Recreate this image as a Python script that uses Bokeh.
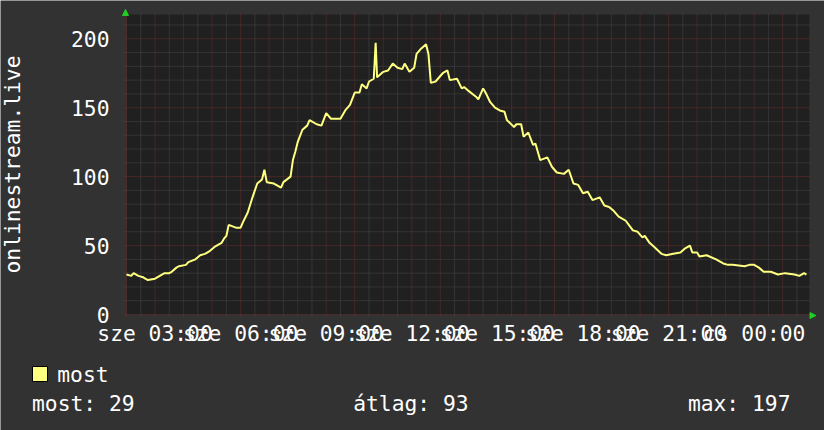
import math
from bokeh.plotting import figure
from bokeh.models import (Range1d, FixedTicker, LinearAxis, Arrow, NormalHead,
                          Label, ColumnDataSource)
from bokeh.embed import file_html
from bokeh.resources import INLINE

# ---------------- data ----------------
# minutes after Wednesday 00:00 (values > 1440 are Thursday)
minutes = [120, 130, 135, 145, 155, 165, 180, 190, 200, 210, 215, 225, 230, 245, 250, 265, 275, 285,
           295, 305, 320, 325, 330, 335, 350, 360, 365, 375, 385, 395, 405, 410, 415, 430, 445, 450,
           465, 470, 475, 480, 490, 500, 505, 520, 530, 540, 550, 570, 580, 590, 600, 610, 615, 625,
           630, 640, 644, 647, 660, 670, 680, 690, 700, 705, 715, 725, 730, 740, 750, 755, 760, 770,
           775, 785, 795, 800, 815, 825, 830, 840, 855, 860, 870, 875, 885, 895, 905, 915, 920, 935,
           940, 950, 955, 965, 975, 980, 990, 1005, 1015, 1025, 1040, 1050, 1060, 1070, 1080, 1090,
           1100, 1115, 1125, 1135, 1145, 1155, 1170, 1185, 1195, 1205, 1210, 1220, 1230, 1245, 1255,
           1270, 1285, 1295, 1305, 1310, 1320, 1325, 1340, 1360, 1375, 1385, 1395, 1420, 1430, 1440,
           1450, 1460, 1475, 1490, 1505, 1525, 1535, 1545, 1550]
values = [29, 28, 30, 28, 27, 25, 26, 28, 30, 30, 31, 34, 35, 36, 38, 40, 43, 44,
          46, 49, 52, 55, 57, 65, 63, 63, 67, 74, 85, 95, 98, 105, 96, 95, 92, 96,
          100, 112, 118, 125, 134, 137, 141, 138, 137, 146, 142, 142, 148, 152, 161, 161, 167, 164,
          169, 171, 197, 172, 176, 177, 182, 179, 178, 182, 176, 179, 189, 193, 196, 189, 168, 169,
          171, 175, 177, 170, 171, 164, 165, 162, 158, 156, 164, 161, 154, 150, 148, 147, 141, 136,
          138, 138, 129, 132, 123, 124, 112, 114, 107, 103, 102, 105, 95, 94, 88, 89,
          83, 85, 79, 78, 75, 71, 68, 61, 60, 56, 57, 52, 49, 44, 43,
          44, 45, 48, 50, 45, 45, 42, 43, 40, 37, 36, 36, 35, 36, 36,
          34, 31, 31, 29, 30, 29, 28, 30, 29]

series_name = "most"
y_title = "onlinestream.live"
x_label_hours = [3, 6, 9, 12, 15, 18, 21, 24]
x_label_texts = ["sze 03:00", "sze 06:00", "sze 09:00", "sze 12:00",
                 "sze 15:00", "sze 18:00", "sze 21:00", "cs 00:00"]
grid_hours = list(range(2, 26))
grid_half_hours = [h + 0.5 for h in range(2, 26)]
y_major = [0, 50, 100, 150, 200]
y_minor = [10, 20, 30, 40, 60, 70, 80, 90, 110, 120, 130, 140, 160, 170, 180, 190, 210]
stat_names = ["most", "átlag", "max"]
stat_values = [29, 93, 197]

# ---------------- style ----------------
BACK = "#323232"
CANVAS = "#202020"
LINE = "#ffff80"
MGRID = "#6a2e2e"
GRID = "#484848"
ARROW = "#22cc22"
TEXT = "#ffffff"
FONT = "DejaVu Sans Mono"
FS = "21.3px"

W, H = 824, 430
X0, X1 = 2.0, 25.94          # visible time span (hours after Wed 00:00)
Y0, Y1 = 0.0, 217.6          # visible value span
FL, FR, FT, FB = 126, 809, 14, 314   # canvas edges in pixels


def px2x(px):
    return X0 + (px - FL) * (X1 - X0) / (FR - FL)


def py2y(py):
    return Y0 + (FB - py) * (Y1 - Y0) / (FB - FT)


hours = [m / 60.0 for m in minutes]
src = ColumnDataSource(dict(x=hours, y=values))

p = figure(width=W, height=H, output_backend="svg", toolbar_location=None,
           x_range=Range1d(px2x(0), px2x(W)), y_range=Range1d(py2y(H), py2y(0)),
           x_axis_type=None, y_axis_type=None,
           min_border_left=0, min_border_right=0, min_border_top=0, min_border_bottom=0,
           background_fill_color=BACK, border_fill_color=BACK, outline_line_color=None)
p.xgrid.visible = False
p.ygrid.visible = False

# plotting canvas
p.quad(left=[X0], right=[X1], bottom=[Y0], top=[Y1], fill_color=CANVAS, line_color=None,
       level="underlay")

# grid lines (with the small overhang beyond the canvas)
vy0, vy1 = py2y(FB + 2), py2y(FT - 2)
hx0, hx1 = px2x(FL - 3), px2x(FR + 2)
p.segment(x0=grid_half_hours, x1=grid_half_hours, y0=[vy0] * len(grid_half_hours),
          y1=[vy1] * len(grid_half_hours), line_color=GRID, line_width=1, line_dash="1 1",
          level="underlay")
p.segment(x0=[hx0] * len(y_minor), x1=[hx1] * len(y_minor), y0=y_minor, y1=y_minor,
          line_color=GRID, line_width=1, line_dash="1 1", level="underlay")
p.segment(x0=grid_hours, x1=grid_hours, y0=[vy0] * len(grid_hours),
          y1=[vy1] * len(grid_hours), line_color=MGRID, line_width=1, line_dash="1 1",
          level="underlay")
p.segment(x0=[hx0] * len(y_major), x1=[hx1] * len(y_major), y0=y_major, y1=y_major,
          line_color=MGRID, line_width=1, line_dash="1 1", level="underlay")

# axes (labels only), drawn at the canvas edges
overrides = {h: t for h, t in zip(x_label_hours, x_label_texts)}
xb = LinearAxis(ticker=FixedTicker(ticks=x_label_hours, minor_ticks=[]),
                major_label_overrides=overrides, fixed_location=Y0)
yl = LinearAxis(ticker=FixedTicker(ticks=y_major, minor_ticks=[]), fixed_location=X0)
for ax, so in ((xb, 6), (yl, 17)):
    ax.axis_line_color = None
    ax.major_tick_line_color = None
    ax.minor_tick_line_color = None
    ax.major_tick_in = 0
    ax.major_tick_out = 0
    ax.minor_tick_in = 0
    ax.minor_tick_out = 0
    ax.major_label_standoff = so
    ax.major_label_text_font = FONT
    ax.major_label_text_font_size = FS
    ax.major_label_text_color = TEXT
p.add_layout(xb, "below")
p.add_layout(yl, "left")

# data line
p.line("x", "y", source=src, line_color=LINE, line_width=2)

# arrows at axis ends
p.add_layout(Arrow(x_start=px2x(125), y_start=py2y(20), x_end=px2x(125), y_end=py2y(9),
                   line_alpha=0,
                   end=NormalHead(size=6, fill_color=ARROW, line_color=ARROW, line_width=1)))
p.add_layout(Arrow(x_start=px2x(800), y_start=py2y(315), x_end=px2x(815.5), y_end=py2y(315),
                   line_alpha=0,
                   end=NormalHead(size=6, fill_color=ARROW, line_color=ARROW, line_width=1)))

# y title
p.add_layout(Label(x=px2x(12), y=py2y(164), text=y_title, angle=math.pi / 2,
                   text_align="center", text_baseline="middle",
                   text_font=FONT, text_font_size=FS, text_color=TEXT))

# legend: colour box and series name
p.quad(left=[px2x(32)], right=[px2x(47)], top=[py2y(366)], bottom=[py2y(381)],
       fill_color=LINE, line_color="#000000", line_width=1)
p.add_layout(Label(x=px2x(56.8), y=py2y(374.3), text=series_name,
                   text_align="left", text_baseline="middle",
                   text_font=FONT, text_font_size=FS, text_color=TEXT))

# statistics line
stat_px = [31.5, 352.7, 687.4]
for name, v, px in zip(stat_names, stat_values, stat_px):
    p.add_layout(Label(x=px2x(px), y=py2y(402.5), text="%s: %d" % (name, v),
                       text_align="left", text_baseline="middle",
                       text_font=FONT, text_font_size=FS, text_color=TEXT))

open("out.html", "w").write(file_html(p, INLINE))
